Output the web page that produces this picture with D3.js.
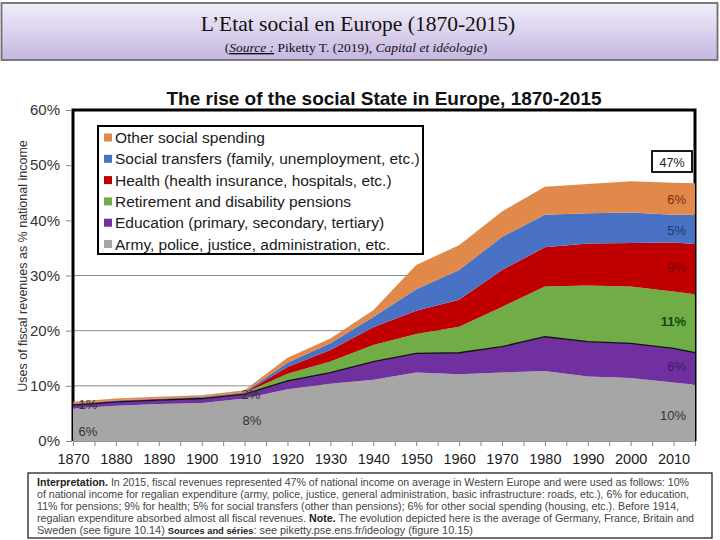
<!DOCTYPE html>
<html><head><meta charset="utf-8">
<script src="https://cdn.jsdelivr.net/npm/d3@7"></script>
<style>body{margin:0;background:#fff}svg{display:block}</style>
</head><body>
<svg id="c" width="720" height="540"></svg>
<script>
const years = [1870,1880,1890,1900,1910,1920,1930,1940,1950,1960,1970,1980,1990,2000,2010,2015];
const army      = [5.9,6.4,6.7,6.9,7.7,9.4,10.4,11.1,12.4,12.1,12.4,12.7,11.7,11.4,10.6,10.2];
const education = [0.6,0.7,0.7,0.8,0.8,1.5,2.0,3.3,3.5,3.9,4.7,6.2,6.3,6.3,6.2,5.8];
const pensions  = [0.1,0.1,0.1,0.1,0.2,1.3,2.0,3.0,3.5,4.7,7.2,9.1,10.2,10.3,10.3,10.6];
const health    = [0.1,0.1,0.1,0.1,0.1,1.2,2.1,3.2,4.2,4.9,6.7,7.1,7.6,7.9,8.9,9.1];
const social    = [0.1,0.1,0.1,0.1,0.1,0.8,1.2,1.9,3.9,5.4,6.0,5.9,5.5,5.5,5.0,5.3];
const other     = [0.3,0.3,0.3,0.3,0.3,0.9,0.9,1.2,4.4,4.5,4.6,5.1,5.3,5.7,5.8,5.7];
const seriesKeys = ["army","education","pensions","health","social","other"];
const seriesNames = ["Army, police, justice, administration, etc.","Education (primary, secondary, tertiary)","Retirement and disability pensions","Health (health insurance, hospitals, etc.)","Social transfers (family, unemployment, etc.)","Other social spending"];
const seriesColors = ["#A6A6A6","#7030A0","#70AD47","#C00000","#4A72C4","#E0894A"];
const yTicks = [0,10,20,30,40,50,60];
const xTicks = [1870,1880,1890,1900,1910,1920,1930,1940,1950,1960,1970,1980,1990,2000,2010];
const rightLabels = ["10%","6%","11%","9%","5%","6%"];
const rightLabelColors = ["#333333","#3D1B5E","#0B4F0B","#7A0000","#1F3870","#7A2E0A"];
const totalLabel = "47%";
const noteLines = [
 [["Interpretation.",1],[" In 2015, fiscal revenues represented 47% of national income on average in Western Europe and were used as follows: 10%",0]],
 [["of national income for regalian expenditure (army, police, justice, general administration, basic infrastructure: roads, etc.), 6% for education,",0]],
 [["11% for pensions; 9% for health; 5% for social transfers (other than pensions); 6% for other social spending (housing, etc.). Before 1914,",0]],
 [["regalian expenditure absorbed almost all fiscal revenues. ",0],["Note.",1],[" The evolution depicted here is the average of Germany, France, Britain and",0]],
 [["Sweden (see figure 10.14)   ",0],["Sources and séries",2],[": see piketty.pse.ens.fr/ideology (figure 10.15)",0]]
];
const noteWidths = [652,652,642,657,436];

const data = years.map((yr,i)=>({year:yr,army:army[i],education:education[i],pensions:pensions[i],health:health[i],social:social[i],other:other[i]}));
const svg = d3.select("#c");

// Header
const defs = svg.append("defs");
const g1 = defs.append("linearGradient").attr("id","hg").attr("x1",0).attr("y1",0).attr("x2",0).attr("y2",1);
g1.append("stop").attr("offset","0%").attr("stop-color","#F1EEF9");
g1.append("stop").attr("offset","100%").attr("stop-color","#C6B6E1");
svg.append("rect").attr("x",1.5).attr("y",3).attr("width",716).attr("height",57).attr("fill","url(#hg)").attr("stroke","#6F6F6F").attr("stroke-width",1.8);
svg.append("text").attr("x",358).attr("y",31).attr("text-anchor","middle").attr("font-family","Liberation Serif, Times New Roman, serif").attr("font-size",21.5).attr("fill","#111").text("L’Etat social en Europe (1870-2015)");
const sub = svg.append("text").attr("x",356).attr("y",52).attr("text-anchor","middle").attr("font-family","Liberation Serif, Times New Roman, serif").attr("font-size",13.5).attr("fill","#111");
sub.append("tspan").text("(");
sub.append("tspan").attr("font-style","italic").attr("text-decoration","underline").text("Source :");
sub.append("tspan").text(" Piketty T. (2019), ");
sub.append("tspan").attr("font-style","italic").text("Capital et idéologie");
sub.append("tspan").text(")");

// Scales
const x = d3.scaleLinear().domain([1870,2015]).range([73,695]);
const y = d3.scaleLinear().domain([0,60]).range([441,110]);

// chart title
svg.append("text").attr("x",384).attr("y",105).attr("text-anchor","middle").attr("font-family","Liberation Sans, Arial, sans-serif").attr("font-weight","bold").attr("font-size",19).attr("fill","#111").text("The rise of the social State in Europe, 1870-2015");

// gridlines
svg.append("g").selectAll("line").data([10,20,30]).join("line")
 .attr("x1",x(1870)).attr("x2",x(2015)).attr("y1",d=>y(d)).attr("y2",d=>y(d)).attr("stroke","#8C8C8C").attr("stroke-width",1);

// frame (top, left, right)
svg.append("path").attr("d",`M${x(1870)},${y(0)}V${y(60)}H${x(2015)}V${y(0)}`).attr("fill","none").attr("stroke","#000").attr("stroke-width",3);

// stacked areas
const stack = d3.stack().keys(seriesKeys);
const layers = stack(data);
const area = d3.area().x(d=>x(d.data.year)).y0(d=>y(d[0])).y1(d=>y(d[1]));
svg.append("g").selectAll("path").data(layers).join("path").attr("d",area).attr("fill",(d,i)=>seriesColors[i]);
// black line on top of education
svg.append("path").datum(layers[1]).attr("d",d3.line().x(d=>x(d.data.year)).y(d=>y(d[1]))).attr("fill","none").attr("stroke","#111").attr("stroke-width",1.3);

// axes
const yAxis = d3.axisLeft(y).tickValues(yTicks).tickFormat(d=>d+"%").tickSize(6).tickPadding(6);
const ya = svg.append("g").attr("transform",`translate(${x(1870)-1},0)`).call(yAxis);
ya.select(".domain").remove();
ya.selectAll("line").attr("stroke","#888");
ya.selectAll("text").attr("font-family","Liberation Sans, Arial, sans-serif").attr("font-size",15).attr("fill","#333");

const xAxis = d3.axisBottom(x).tickValues(d3.range(1870,2016,5)).tickFormat(d=>xTicks.includes(d)?d:"").tickSize(5).tickPadding(8);
const xa = svg.append("g").attr("transform",`translate(0,${y(0)})`).call(xAxis);
xa.select(".domain").attr("stroke","#999");
xa.selectAll("line").attr("stroke","#888");
xa.selectAll("text").attr("font-family","Liberation Sans, Arial, sans-serif").attr("font-size",14.5).attr("fill","#1a1a1a");

// y axis label
svg.append("text").attr("transform",`translate(27,266) rotate(-90)`).attr("text-anchor","middle").attr("font-family","Liberation Sans, Arial, sans-serif").attr("font-size",12.5).attr("fill","#333").text("Uses of fiscal revenues as % national income");

// legend
const lg = svg.append("g");
lg.append("rect").attr("x",98).attr("y",126).attr("width",325).attr("height",128).attr("fill","#fff").attr("stroke","#000").attr("stroke-width",2);
const order = [5,4,3,2,1,0];
order.forEach((si,k)=>{
  const cy = 137.5 + k*21.3;
  lg.append("rect").attr("x",104).attr("y",cy-4).attr("width",8).attr("height",8).attr("fill",seriesColors[si]);
  lg.append("text").attr("x",115).attr("y",cy+5.5).attr("font-family","Liberation Sans, Arial, sans-serif").attr("font-size",15.5).attr("fill","#1a1a1a").text(seriesNames[si]);
});

// right labels
const rlY = [415,366.5,321.5,267,230,199];
rightLabels.forEach((t,i)=>{
  svg.append("text").attr("x",686).attr("y",rlY[i]+4.5).attr("text-anchor","end").attr("font-family","Liberation Sans, Arial, sans-serif").attr("font-size",13).attr("font-weight",i===2?"bold":"normal").attr("fill",rightLabelColors[i]).text(t);
});
// total box
svg.append("rect").attr("x",652).attr("y",151).attr("width",40).attr("height",21).attr("fill","#fff").attr("stroke","#000").attr("stroke-width",1.8);
svg.append("text").attr("x",672).attr("y",166.5).attr("text-anchor","middle").attr("font-family","Liberation Sans, Arial, sans-serif").attr("font-size",12.5).attr("fill","#222").text(totalLabel);

// left labels
const leftLabels = [["1%",88,404],["6%",88,431],["2%",251,394],["8%",252,420]];
leftLabels.forEach(l=>{
  svg.append("text").attr("x",l[1]).attr("y",l[2]+4.5).attr("text-anchor","middle").attr("font-family","Liberation Sans, Arial, sans-serif").attr("font-size",13).attr("fill","#333").text(l[0]);
});

// note box
svg.append("rect").attr("x",28).attr("y",473).attr("width",684).attr("height",65).attr("fill","#fff").attr("stroke","#222").attr("stroke-width",1.3);
noteLines.forEach((line,i)=>{
  const t = svg.append("text").attr("x",37).attr("y",486+i*12).attr("font-family","Liberation Sans Narrow, Arial Narrow, Liberation Sans, Arial, sans-serif").attr("font-size",10.5).attr("fill","#444")
    .attr("textLength",noteWidths[i]).attr("lengthAdjust","spacingAndGlyphs");
  line.forEach(seg=>{
    const ts = t.append("tspan").text(seg[0]);
    if(seg[1]===1){ts.attr("font-weight","bold").attr("fill","#222");}
    if(seg[1]===2){ts.attr("font-weight","bold").attr("font-size",9).attr("fill","#222");}
  });
});
</script>
</body></html>
